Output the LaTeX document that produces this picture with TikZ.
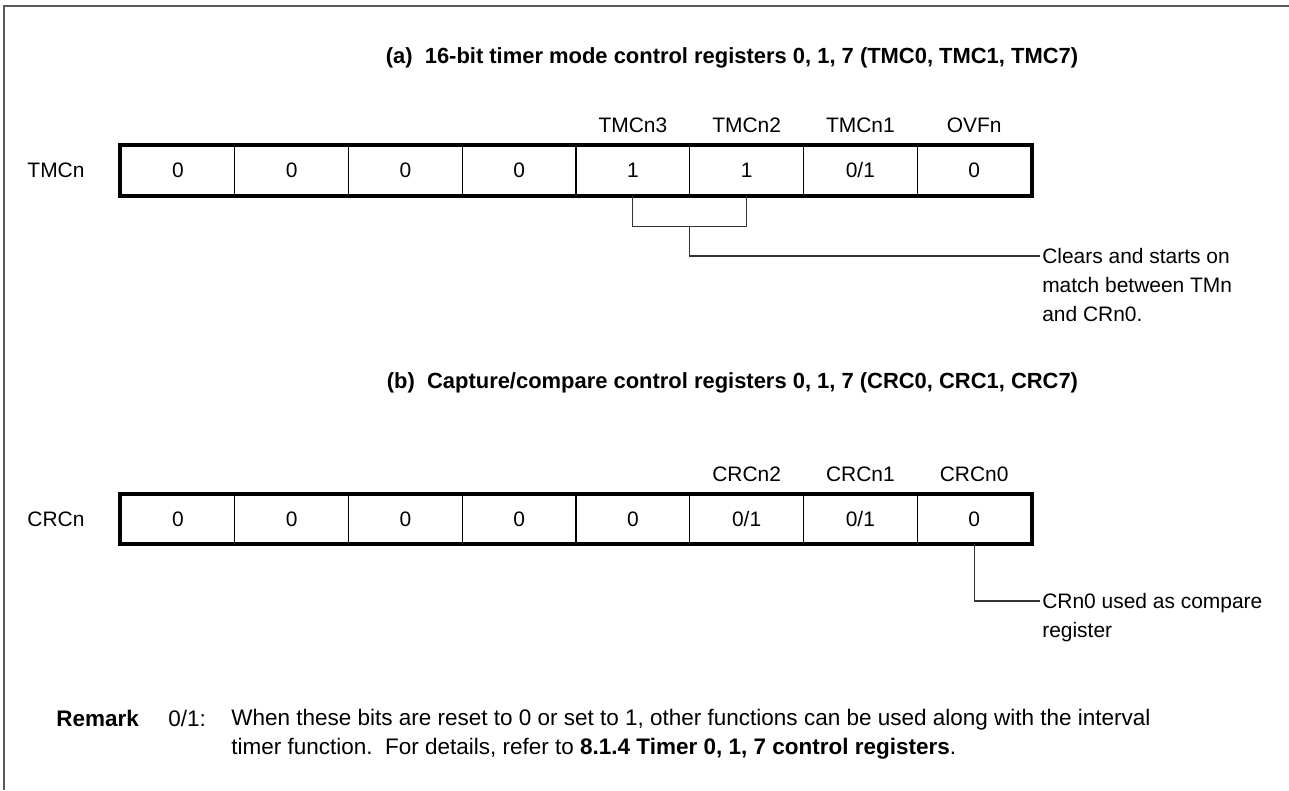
\documentclass[tikz,border=0pt]{standalone}
\usepackage{fontspec}
\setmainfont{Liberation Sans}
\usetikzlibrary{calc}
\newcommand{\regfont}{\fontsize{14.9pt}{20.6pt}\selectfont}
\newcommand{\headfont}{\fontsize{15.6pt}{20.6pt}\selectfont}
\newcommand{\rmkfont}{\fontsize{16pt}{20.6pt}\selectfont}
\begin{document}
\begin{tikzpicture}[x=0.025cm, y=-0.025cm,
  cell/.style={rectangle, draw, line width=0.9pt, inner sep=0pt,
               minimum width=2.84375cm, minimum height=1.225cm, font=\regfont},
  regbox/.style={draw, line width=2.8pt},
  bitname/.style={font=\regfont, inner sep=0pt},
  title/.style={font=\headfont\bfseries, inner sep=0pt},
  note/.style={font=\regfont, align=left, anchor=north west, inner sep=0pt},
  lead/.style={draw=black!80, line width=0.75pt}
]
  \useasboundingbox (0,0) rectangle (1289,790);
  % frame
  \draw[black!65, line width=1.1pt] (4,790) -- (4,6) -- (1289,6);

  % (a) TMCn
  \node[title] (ta) at (732,58) {(a)\ \ 16-bit timer mode control registers 0, 1, 7 (TMC0, TMC1, TMC7)};
  \node[bitname] (tn) at (56,170.5) {TMCn};
  \foreach \i/\v in {1/0, 2/0, 3/0, 4/0, 5/1, 6/1, 7/0\slash 1, 8/0} {
    \node[cell] (t\i) at ({121+113.75*(\i-0.5)},170.5) {\v};
  }
  \draw[regbox] (t1.north west) rectangle (t8.south east);
  \foreach \i/\w in {5/TMCn3, 6/TMCn2, 7/TMCn1, 8/OVFn} {
    \node[bitname] (tb\i) at ($(t\i.north)+(0,-20)$) {\w};
  }

  % bracket to note
  \node[note] (clr) at (1042,248) {Clears and starts on\\match between TMn\\and CRn0.};
  \draw[lead] (t5.south) -- ++(0,31) coordinate (bl) -| (t6.south);
  \coordinate (bm) at ($(bl)!0.5!(bl -| t6.south)$);
  \draw[lead] (bm) |- ($(clr.north west)+(-2,8)$);

  % (b) CRCn
  \node[title] (tb) at (732.5,383) {(b)\ \ Capture/compare control registers 0, 1, 7 (CRC0, CRC1, CRC7)};
  \node[bitname] (cn) at (56,519) {CRCn};
  \foreach \i/\v in {1/0, 2/0, 3/0, 4/0, 5/0, 6/0\slash 1, 7/0\slash 1, 8/0} {
    \node[cell] (c\i) at ({121+113.75*(\i-0.5)},519) {\v};
  }
  \draw[regbox] (c1.north west) rectangle (c8.south east);
  \foreach \i/\w in {6/CRCn2, 7/CRCn1, 8/CRCn0} {
    \node[bitname] (cb\i) at ($(c\i.north)+(0,-20)$) {\w};
  }

  % compare note
  \node[note] (cmp) at (1042,593) {CRn0 used as compare\\register};
  \draw[lead] (c8.south) |- ($(cmp.north west)+(-2,8)$);

  % Remark
  \node[font=\rmkfont\bfseries, anchor=west, inner sep=0pt] (rmk) at (56,718) {Remark};
  \node[font=\rmkfont, anchor=west, inner sep=0pt] (rv) at (168,718) {0/1:};
  \node[note, font=\rmkfont] (rtx) at (231,709) {When these bits are reset to 0 or set to 1, other functions can be used along with the interval\\
    timer function.\ \ For details, refer to \textbf{8.1.4 Timer 0, 1, 7 control registers}.};
\end{tikzpicture}
\end{document}
